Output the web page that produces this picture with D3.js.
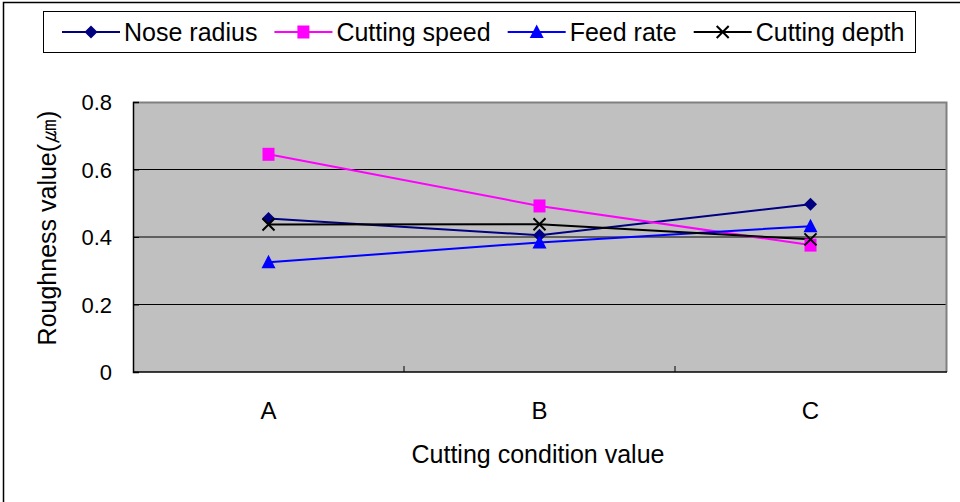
<!DOCTYPE html>
<html>
<head>
<meta charset="utf-8">
<script src="https://cdn.jsdelivr.net/npm/d3@7"></script>
<style>
  html, body { margin: 0; padding: 0; background: #fff; }
  svg { display: block; }
  text { font-family: Arial, "Liberation Sans", sans-serif; fill: #000; }
</style>
</head>
<body>
<svg id="chart" width="960" height="502"></svg>
<script>
// Cutting conditions on the x axis
const categories = ["A", "B", "C"];
// Surface roughness (µm) for each factor level
const noseRadius   = [0.455, 0.405, 0.497];
const cuttingSpeed = [0.645, 0.492, 0.376];
const feedRate     = [0.325, 0.384, 0.432];
const cuttingDepth = [0.437, 0.438, 0.393];
const yTicks = [0, 0.2, 0.4, 0.6, 0.8];
const seriesNames = ["Nose radius", "Cutting speed", "Feed rate", "Cutting depth"];

const series = [
  { name: seriesNames[0], values: noseRadius,   color: "#000080", marker: "diamond" },
  { name: seriesNames[1], values: cuttingSpeed, color: "#FF00FF", marker: "square" },
  { name: seriesNames[2], values: feedRate,     color: "#0000FF", marker: "triangle" },
  { name: seriesNames[3], values: cuttingDepth, color: "#000000", marker: "cross" }
];

const svg = d3.select("#chart");
const plot = { left: 133, right: 946, top: 102, bottom: 372 };

const x = d3.scaleBand().domain(categories).range([plot.left, plot.right]);
const xc = d => x(d) + x.bandwidth() / 2;
const y = d3.scaleLinear().domain([0, 0.8]).range([plot.bottom, plot.top]);

// outer frame (left and top edges)
svg.append("path")
  .attr("d", "M3.5,502 V2.5 H960")
  .attr("fill", "none").attr("stroke", "#000").attr("stroke-width", 1.5);

// plot background
svg.append("rect")
  .attr("x", plot.left).attr("y", plot.top)
  .attr("width", plot.right - plot.left).attr("height", plot.bottom - plot.top)
  .attr("fill", "#C0C0C0");

// horizontal gridlines
svg.append("g").selectAll("line")
  .data(yTicks.filter(t => t > 0 && t < 0.8))
  .join("line")
  .attr("x1", plot.left).attr("x2", plot.right)
  .attr("y1", d => y(d)).attr("y2", d => y(d))
  .attr("stroke", "#000").attr("stroke-width", 1);

// plot border: top and right in grey
svg.append("path")
  .attr("d", `M${plot.left},${plot.top + 0.5} H${plot.right + 0.5} V${plot.bottom}`)
  .attr("fill", "none").attr("stroke", "#808080").attr("stroke-width", 2);

// y axis
const yAxis = d3.axisLeft(y).tickValues(yTicks).tickSize(-6).tickPadding(21)
  .tickFormat(d => d === 0 ? "0" : d3.format(".1f")(d));
const gy = svg.append("g").attr("transform", `translate(${plot.left},0)`).call(yAxis);
gy.select(".domain").attr("stroke", "#000").attr("stroke-width", 1.5);
gy.selectAll(".tick line").attr("stroke", "#000");
gy.selectAll(".tick text").style("font-size", "22px").attr("dy", "0.36em");

// x axis: ticks between categories, pointing up
const xTickPos = categories.slice(1).map(c => x(c));
const gx = svg.append("g");
gx.append("line")
  .attr("x1", plot.left).attr("x2", plot.right + 1)
  .attr("y1", plot.bottom).attr("y2", plot.bottom)
  .attr("stroke", "#000").attr("stroke-width", 1.5);
gx.selectAll("line.tk").data(xTickPos).join("line").attr("class", "tk")
  .attr("x1", d => d).attr("x2", d => d)
  .attr("y1", plot.bottom).attr("y2", plot.bottom - 6)
  .attr("stroke", "#000");
gx.selectAll("text").data(categories).join("text")
  .attr("x", d => xc(d)).attr("y", 419)
  .attr("text-anchor", "middle")
  .style("font-size", "24px")
  .text(d => d);

// axis titles
svg.append("text")
  .attr("x", 538).attr("y", 463)
  .attr("text-anchor", "middle")
  .style("font-size", "25px")
  .text("Cutting condition value");

svg.append("text")
  .attr("transform", "translate(56,228) rotate(-90)")
  .attr("text-anchor", "middle")
  .style("font-size", "25px")
  .text("Roughness value(㎛)");

// marker shapes
function drawMarker(g, type, color) {
  if (type === "diamond") {
    g.append("path").attr("d", "M0,-6.5 L6.5,0 L0,6.5 L-6.5,0 Z").attr("fill", color);
  } else if (type === "square") {
    g.append("rect").attr("x", -6).attr("y", -6.5).attr("width", 12).attr("height", 13).attr("fill", color);
  } else if (type === "triangle") {
    g.append("path").attr("d", "M0,-7.5 L7,6 L-7,6 Z").attr("fill", color);
  } else {
    g.append("path").attr("d", "M-6,-6 L6,6 M-6,6 L6,-6")
      .attr("stroke", color).attr("stroke-width", 2).attr("fill", "none");
  }
}

const line = d3.line().x((d, i) => xc(categories[i])).y(d => y(d));

series.forEach(s => {
  svg.append("path")
    .datum(s.values)
    .attr("d", line)
    .attr("fill", "none").attr("stroke", s.color).attr("stroke-width", 2);
});
series.forEach(s => {
  svg.append("g").selectAll("g")
    .data(s.values)
    .join("g")
    .attr("transform", (d, i) => `translate(${xc(categories[i])},${y(d)})`)
    .each(function () { drawMarker(d3.select(this), s.marker, s.color); });
});

// legend: each entry is a line sample, its marker, then the label
const legend = svg.append("g");
legend.append("rect")
  .attr("x", 43.5).attr("y", 11.5).attr("width", 872).attr("height", 41)
  .attr("fill", "#fff").attr("stroke", "#000").attr("stroke-width", 1);

let cursor = 62;
series.forEach(s => {
  const g = legend.append("g");
  g.append("line")
    .attr("x1", cursor).attr("x2", cursor + 58)
    .attr("y1", 32).attr("y2", 32)
    .attr("stroke", s.color).attr("stroke-width", 2);
  const m = g.append("g").attr("transform", `translate(${cursor + 29},32)`);
  drawMarker(m, s.marker, s.color);
  const t = g.append("text")
    .attr("x", cursor + 62).attr("y", 41)
    .style("font-size", "25px")
    .text(s.name);
  cursor += 62 + t.node().getComputedTextLength() + 17;
});
</script>
</body>
</html>
